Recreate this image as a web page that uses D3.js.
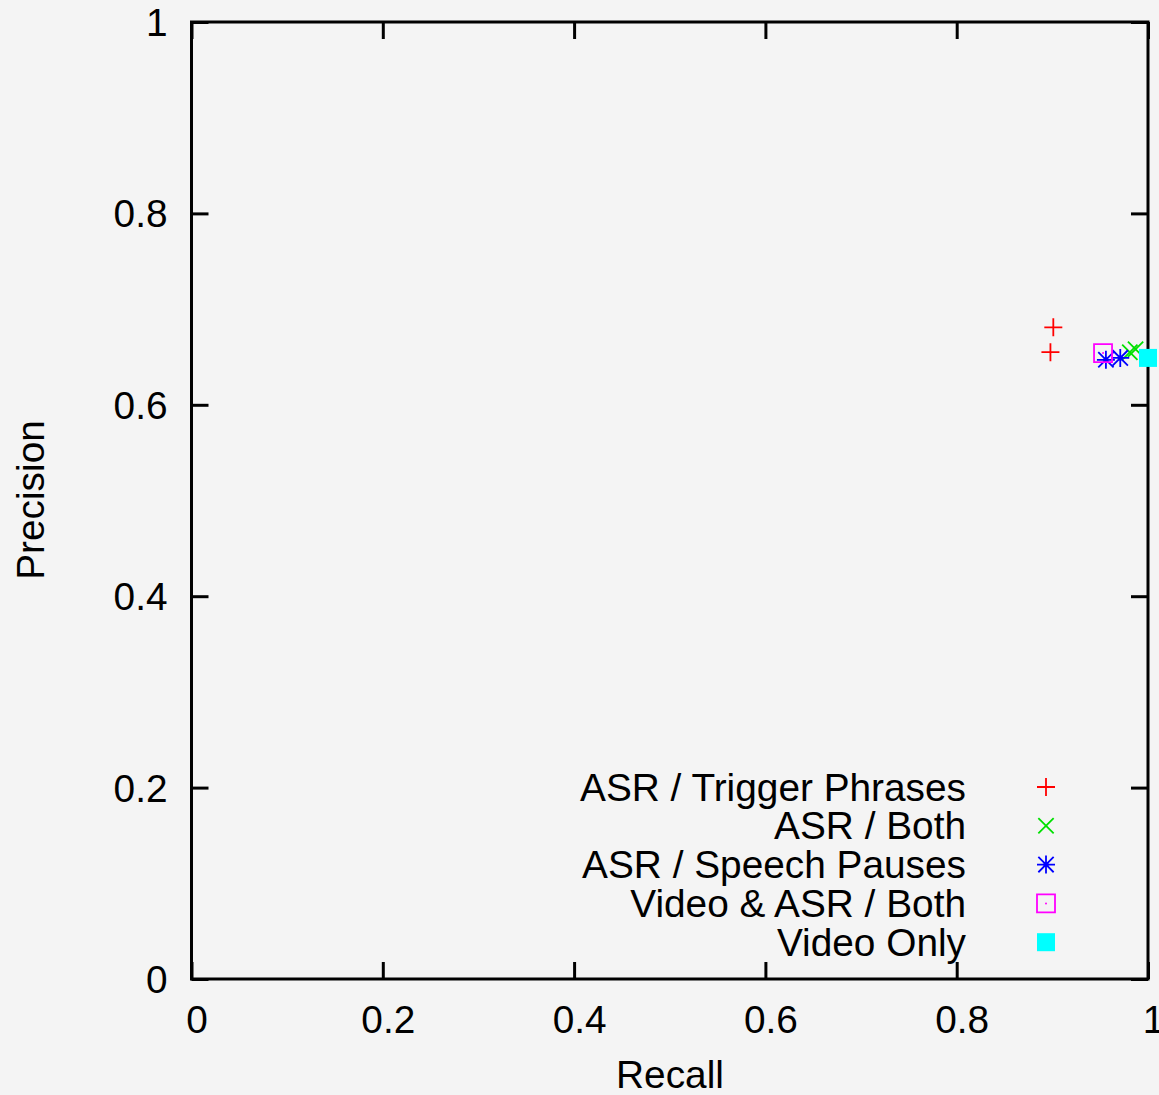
<!DOCTYPE html>
<html>
<head>
<meta charset="utf-8">
<script src="https://cdn.jsdelivr.net/npm/d3@7"></script>
<style>
    body { margin: 0; background: #f4f4f4; }
    svg { display: block; }
</style>
</head>
<body>
<div id="chart"></div>
<script>
// series (recall, precision)
const seriesNames = ['ASR / Trigger Phrases', 'ASR / Both', 'ASR / Speech Pauses', 'Video & ASR / Both', 'Video Only'];
const trigger = [[0.901, 0.681], [0.898, 0.655]];
const both = [[0.981, 0.655], [0.987, 0.658]];
const pauses = [[0.956, 0.647], [0.971, 0.649]];
const videoAsr = [[0.953, 0.654]];
const videoOnly = [[1.0, 0.649]];
const xTicks = [0, 0.2, 0.4, 0.6, 0.8, 1];
const yTicks = [0, 0.2, 0.4, 0.6, 0.8, 1];

const width = 1159,
    height = 1095,
    margin = {top: 22, right: 11, bottom: 116, left: 191.5},
    tickLen = 17,
    fontSize = 38.8;

const chartWidth = width - margin.left - margin.right,
    chartHeight = height - margin.top - margin.bottom;

const svg = d3.select('#chart').append('svg')
    .attr('width', width)
    .attr('height', height)
    .style('font-family', '"Liberation Sans", Arial, sans-serif');

svg.append('rect').attr('width', width).attr('height', height).attr('fill', '#f4f4f4');

const g = svg.append('g').attr('transform', `translate(${margin.left}, ${margin.top})`);

const x = d3.scaleLinear().domain([0, 1]).range([0, chartWidth]);
const y = d3.scaleLinear().domain([0, 1]).range([chartHeight, 0]);

// ticks on all four sides, pointing inward
const xAxis = d3.axisBottom(x).tickValues(xTicks).tickSize(-tickLen).tickFormat(d3.format('~g')).tickPadding(26);
const xAxisTop = d3.axisTop(x).tickValues(xTicks).tickSize(-tickLen).tickFormat('');
const yAxis = d3.axisLeft(y).tickValues(yTicks).tickSize(-tickLen).tickFormat(d3.format('~g')).tickPadding(24);
const yAxisRight = d3.axisRight(y).tickValues(yTicks).tickSize(-tickLen).tickFormat('');

function styleAxis(sel) {
    sel.select('.domain').remove();
    sel.selectAll('.tick line').attr('stroke', '#000').attr('stroke-width', 3);
    sel.selectAll('.tick text').attr('fill', '#000').attr('font-size', fontSize).attr('font-family', null);
}

g.append('g').attr('transform', `translate(0, ${chartHeight})`).call(xAxis).call(styleAxis)
    .selectAll('.tick text').attr('dx', 5);
g.append('g').call(xAxisTop).call(styleAxis);
g.append('g').call(yAxis).call(styleAxis)
    .selectAll('.tick text').attr('dy', '0.35em');
g.append('g').attr('transform', `translate(${chartWidth}, 0)`).call(yAxisRight).call(styleAxis);

// frame
g.append('rect')
    .attr('width', chartWidth)
    .attr('height', chartHeight)
    .attr('fill', 'none')
    .attr('stroke', '#000')
    .attr('stroke-width', 3);

// gnuplot-style point shapes
const s = 9;
const shapes = {
    plus: `M${-s},0H${s}M0,${-s}V${s}`,
    times: `M${-s * 0.85},${-s * 0.85}L${s * 0.85},${s * 0.85}M${-s * 0.85},${s * 0.85}L${s * 0.85},${-s * 0.85}`,
    star: `M${-s},0H${s}M0,${-s}V${s}M${-s * 0.85},${-s * 0.85}L${s * 0.85},${s * 0.85}M${-s * 0.85},${s * 0.85}L${s * 0.85},${-s * 0.85}`,
    box: `M${-s},${-s}H${s}V${s}H${-s}Z`
};

const series = [
    {name: seriesNames[0], points: trigger, color: '#ff0000', shape: 'plus'},
    {name: seriesNames[1], points: both, color: '#00e000', shape: 'times'},
    {name: seriesNames[2], points: pauses, color: '#0000ff', shape: 'star'},
    {name: seriesNames[3], points: videoAsr, color: '#ff00ff', shape: 'box'},
    {name: seriesNames[4], points: videoOnly, color: '#00ffff', shape: 'fill'}
];

function drawMark(sel, d) {
    if (d.shape === 'fill') {
        sel.append('rect').attr('x', -s).attr('y', -s).attr('width', 2 * s).attr('height', 2 * s).attr('fill', d.color);
        return;
    }
    sel.append('path').attr('d', shapes[d.shape]).attr('fill', 'none').attr('stroke', d.color).attr('stroke-width', 1.8);
    if (d.shape === 'star' || d.shape === 'box') {
        sel.append('circle').attr('r', d.shape === 'star' ? 2.5 : 1).attr('fill', d.color);
    }
}

series.forEach((d) => {
    g.append('g').selectAll('g')
        .data(d.points)
        .enter()
        .append('g')
        .attr('transform', (p) => `translate(${x(p[0])}, ${y(p[1])})`)
        .each(function () { drawMark(d3.select(this), d); });
});

// legend
const legend = svg.append('g')
    .selectAll('g')
    .data(series)
    .enter()
    .append('g')
    .attr('transform', (d, i) => `translate(0, ${787 + 38.8 * i})`);

legend.append('text')
    .attr('x', 966)
    .attr('dy', '0.35em')
    .attr('text-anchor', 'end')
    .attr('font-size', fontSize)
    .text((d) => d.name);

legend.append('g')
    .attr('transform', 'translate(1046, 0)')
    .each(function (d) { drawMark(d3.select(this), d); });

// axis titles
svg.append('text')
    .attr('x', 670)
    .attr('y', 1088)
    .attr('text-anchor', 'middle')
    .attr('font-size', fontSize)
    .text('Recall');

svg.append('text')
    .attr('transform', 'translate(44, 500) rotate(-90)')
    .attr('text-anchor', 'middle')
    .attr('font-size', fontSize)
    .text('Precision');
</script>
</body>
</html>
